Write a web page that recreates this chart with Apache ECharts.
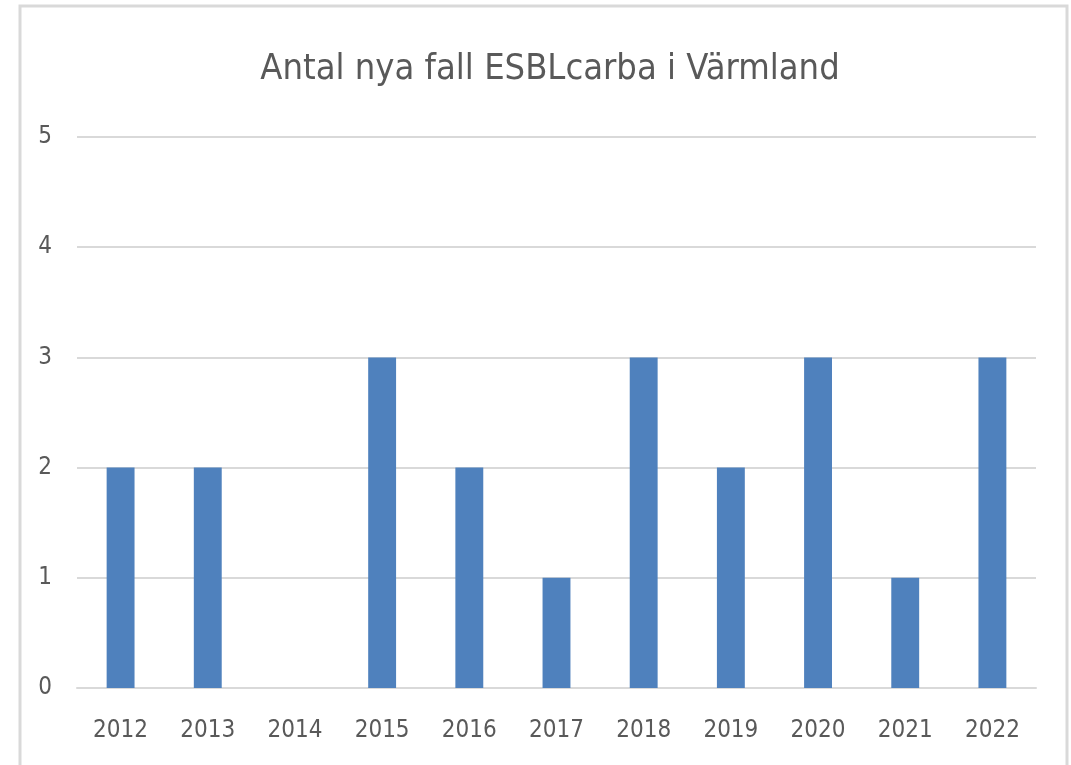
<!DOCTYPE html>
<html>
<head>
<meta charset="utf-8">
<script src="https://cdn.jsdelivr.net/npm/echarts@6/dist/echarts.min.js"></script>
<style>
  html, body { margin: 0; padding: 0; background: #fff; }
  #chart { width: 1071px; height: 765px; }
</style>
</head>
<body>
<div id="chart"></div>
<script>
// data
var years = ['2012', '2013', '2014', '2015', '2016', '2017', '2018', '2019', '2020', '2021', '2022'];
var cases = [2, 2, 0, 3, 2, 1, 3, 2, 3, 1, 3];
var yTicks = [0, 1, 2, 3, 4, 5];

var font = '"Liberation Sans Narrow", "DejaVu Sans Condensed", "Open Sans", sans-serif';
var textColor = '#595959';

var chart = echarts.init(document.getElementById('chart'));
chart.setOption({
  animation: false,
  title: {
    text: 'Antal nya fall ESBLcarba i Värmland',
    left: 545,
    top: 47,
    textAlign: 'center',
    textStyle: { fontFamily: font, fontSize: 36, fontWeight: 'normal', color: textColor }
  },
  graphic: [{
    type: 'rect',
    shape: { x: 20, y: 6, width: 1047, height: 800 },
    style: { fill: 'none', stroke: '#d9d9d9', lineWidth: 3 },
    silent: true
  }],
  grid: { left: 77, right: 35, top: 137, bottom: 77 },
  xAxis: {
    type: 'category',
    data: years,
    axisTick: { show: false },
    axisLine: { lineStyle: { color: '#d9d9d9', width: 2 } },
    axisLabel: { margin: 31, fontFamily: font, fontSize: 24, color: textColor }
  },
  yAxis: {
    type: 'value',
    min: yTicks[0],
    max: yTicks[yTicks.length - 1],
    interval: 1,
    axisLine: { show: false },
    axisTick: { show: false },
    splitLine: { lineStyle: { color: '#d9d9d9', width: 2 } },
    axisLabel: { margin: 25, fontFamily: font, fontSize: 24, color: textColor }
  },
  series: [{
    type: 'bar',
    data: cases,
    barWidth: '32%',
    itemStyle: { color: '#4f81bd' }
  }]
});
</script>
</body>
</html>
